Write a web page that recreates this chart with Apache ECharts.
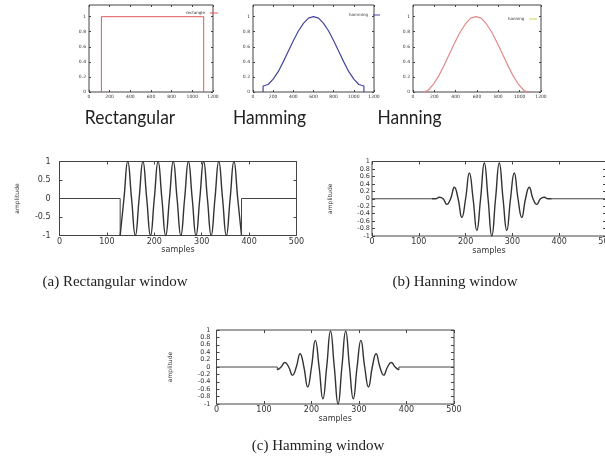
<!DOCTYPE html>
<html><head><meta charset="utf-8">
<script src="https://cdn.jsdelivr.net/npm/echarts@6/dist/echarts.min.js"></script>
<style>html,body{margin:0;padding:0;background:#fff}#c{width:605px;height:464px}</style>
</head><body><div id="c"></div>
<script>
// ---- top row: window shapes ----
const windowAxisTicks = [0, 200, 400, 600, 800, 1000, 1200];
const windowLevelTicks = [0, 0.2, 0.4, 0.6, 0.8, 1];
const rectangleSamples = [120, 120, 1110, 1110];
const rectangleWindow = [0, 1, 1, 0];
const hammingSamples = [100, 100, 150, 200, 250, 300, 350, 400, 450, 500, 550, 600, 650, 700, 750, 800, 850, 900, 950, 1000, 1050, 1100, 1100];
const hammingWindow = [0, 0.08, 0.10, 0.17, 0.27, 0.40, 0.54, 0.68, 0.81, 0.91, 0.98, 1.00, 0.98, 0.91, 0.81, 0.68, 0.54, 0.40, 0.27, 0.17, 0.10, 0.08, 0];
const hanningSamples = [90, 140, 190, 240, 290, 340, 390, 440, 490, 540, 590, 640, 690, 740, 790, 840, 890, 940, 990, 1040, 1090];
const hanningWindow = [0, 0.02, 0.10, 0.21, 0.35, 0.50, 0.65, 0.79, 0.90, 0.98, 1.00, 0.98, 0.90, 0.79, 0.65, 0.50, 0.35, 0.21, 0.10, 0.02, 0];
const windowNames = ['Rectangular', 'Hamming', 'Hanning'];
const legendNames = ['rectangle', 'hamming', 'hanning'];

// ---- bottom: windowed signals ----
const silenceSamples = [0, 128, 384, 500];
const waveSamples = [128, 136, 144, 152, 160, 168, 176, 184, 192, 200, 208, 216, 224, 232, 240, 248, 256, 264, 272, 280, 288, 296, 304, 312, 320, 328, 336, 344, 352, 360, 368, 376, 384];
const rectangularWave = [-1, 0, 1, 0, -1, 0, 1, 0, -1, 0, 1, 0, -1, 0, 1, 0, -1, 0, 1, 0, -1, 0, 1, 0, -1, 0, 1, 0, -1, 0, 1, 0, -1];
const hanningWave = [0, 0, 0.04, 0, -0.15, 0, 0.31, 0, -0.5, 0, 0.69, 0, -0.85, 0, 0.96, 0, -1, 0, 0.96, 0, -0.85, 0, 0.69, 0, -0.5, 0, 0.31, 0, -0.15, 0, 0.04, 0, 0];
const hammingWave = [-0.08, 0, 0.12, 0, -0.22, 0, 0.36, 0, -0.54, 0, 0.72, 0, -0.86, 0, 0.97, 0, -1, 0, 0.97, 0, -0.86, 0, 0.72, 0, -0.54, 0, 0.36, 0, -0.22, 0, 0.12, 0, -0.08];
const captions = ['(a) Rectangular window', '(b) Hanning window', '(c) Hamming window'];

const pairs = (xs, ys) => xs.map((x, i) => [x, ys[i]]);

const topGrids = [
  {left: 89, top: 5, width: 124, height: 87},
  {left: 253, top: 5, width: 121, height: 87},
  {left: 413, top: 5, width: 128, height: 87}
];
const botGrids = [
  {left: 59.5, top: 161.5, width: 237, height: 74},
  {left: 372, top: 161.5, width: 234, height: 74.5},
  {left: 216.5, top: 330, width: 237.5, height: 74}
];
const grids = topGrids.concat(botGrids).map(g => Object.assign({show: true, borderColor: '#444', borderWidth: 1, backgroundColor: 'transparent', containLabel: false, outerBoundsMode: 'none'}, g));

const tinyFont = {fontFamily: 'DejaVu Sans', fontSize: 4.5, color: '#333'};
const smallFont = {fontFamily: 'DejaVu Sans', fontSize: 8, color: '#333'};
const plain = v => String(Math.round(v * 100) / 100);

const xAxes = [], yAxes = [];
for (let i = 0; i < 3; i++) {
  xAxes.push({type: 'value', gridIndex: i, min: 0, max: 1200, interval: 200,
    axisLine: {show: false, onZero: false}, splitLine: {show: false},
    axisTick: {inside: true, length: 2, customValues: windowAxisTicks, lineStyle: {color: '#444'}},
    axisLabel: Object.assign({margin: 2, formatter: plain, customValues: windowAxisTicks}, tinyFont)});
  yAxes.push({type: 'value', gridIndex: i, min: 0, max: 1.155,
    axisLine: {show: false, onZero: false}, splitLine: {show: false},
    axisTick: {inside: true, length: 2, customValues: windowLevelTicks, lineStyle: {color: '#444'}},
    axisLabel: Object.assign({margin: 3, formatter: plain, customValues: windowLevelTicks}, tinyFont)});
}
const yMargins = [9, 2, 6];
const yGaps = [39, 39, 43];
for (let j = 0; j < 3; j++) {
  const g = 3 + j;
  xAxes.push({type: 'value', gridIndex: g, min: 0, max: 500, interval: 100,
    name: 'samples', nameLocation: 'middle', nameGap: 7.5, nameTextStyle: smallFont,
    axisLine: {show: false, onZero: false}, splitLine: {show: false},
    axisTick: {inside: true, length: 3, lineStyle: {color: '#444'}},
    axisLabel: Object.assign({margin: 2, showMinLabel: true, showMaxLabel: true, alignMaxLabel: 'center', alignMinLabel: 'center'}, smallFont)});
  const yFont = j === 0 ? smallFont : {fontFamily: 'DejaVu Sans', fontSize: 6.5, lineHeight: 6.5, color: '#333'};
  yAxes.push({type: 'value', gridIndex: g, min: -1, max: 1, interval: j === 0 ? 0.5 : 0.2,
    name: 'amplitude', nameLocation: 'middle', nameRotate: 90, nameGap: yGaps[j],
    nameTextStyle: {fontFamily: 'DejaVu Sans', fontSize: 6, color: '#333'},
    axisLine: {show: false, onZero: false}, splitLine: {show: false},
    axisTick: {inside: true, length: 3, lineStyle: {color: '#444'}},
    axisLabel: Object.assign({margin: yMargins[j], formatter: plain, showMinLabel: true, showMaxLabel: true, hideOverlap: false}, yFont)});
}
// mirrored ticks on top / right
for (let g = 0; g < 6; g++) {
  const top = g < 3;
  xAxes.push({type: 'value', gridIndex: g, position: 'top', min: 0, max: top ? 1200 : 500, interval: top ? 200 : 100,
    axisLine: {show: false, onZero: false}, splitLine: {show: false}, axisLabel: {show: false},
    axisTick: {inside: true, length: top ? 2 : 3, lineStyle: {color: '#444'}}});
  yAxes.push(top ? {type: 'value', gridIndex: g, position: 'right', min: 0, max: 1.155,
    axisLine: {show: false, onZero: false}, splitLine: {show: false}, axisLabel: {show: false},
    axisTick: {inside: true, length: 2, customValues: windowLevelTicks, lineStyle: {color: '#444'}}}
    : {type: 'value', gridIndex: g, position: 'right', min: -1, max: 1, interval: g === 3 ? 0.5 : 0.2,
    axisLine: {show: false, onZero: false}, splitLine: {show: false}, axisLabel: {show: false},
    axisTick: {inside: true, length: 3, lineStyle: {color: '#444'}}});
}

const lineDark = {color: '#333', width: 1.4};
const lineFlat = {color: '#444', width: 1};
const base = {type: 'line', showSymbol: false, symbol: 'none', animation: false, silent: true};
const series = [
  Object.assign({}, base, {name: 'rectangle', xAxisIndex: 0, yAxisIndex: 0, data: pairs(rectangleSamples, rectangleWindow), lineStyle: {color: '#e05a5a', width: 1}, itemStyle: {color: '#e05a5a'}}),
  Object.assign({}, base, {name: 'hamming', xAxisIndex: 1, yAxisIndex: 1, data: pairs(hammingSamples, hammingWindow), lineStyle: {color: '#46469c', width: 1.2}, itemStyle: {color: '#46469c'}}),
  Object.assign({}, base, {name: 'hanning', xAxisIndex: 2, yAxisIndex: 2, data: pairs(hanningSamples, hanningWindow), lineStyle: {color: '#e08a8a', width: 1.2}, itemStyle: {color: '#e08a8a'}})
];
const waves = [rectangularWave, hanningWave, hammingWave];
for (let j = 0; j < 3; j++) {
  const w = waves[j];
  const first = w[0], last = w[w.length - 1];
  const idx = 3 + j;
  series.push(Object.assign({}, base, {name: 'lead' + j, xAxisIndex: idx, yAxisIndex: idx,
    data: [[silenceSamples[0], 0], [silenceSamples[1], 0], [silenceSamples[1], first]], lineStyle: lineFlat}));
  series.push(Object.assign({}, base, {name: 'wave' + j, xAxisIndex: idx, yAxisIndex: idx, smooth: 0.5,
    data: pairs(waveSamples, w), lineStyle: lineDark}));
  series.push(Object.assign({}, base, {name: 'trail' + j, xAxisIndex: idx, yAxisIndex: idx,
    data: [[silenceSamples[2], last], [silenceSamples[2], 0], [silenceSamples[3], 0]], lineStyle: lineFlat}));
}

const capTitle = {fontFamily: 'Liberation Serif', fontSize: 15, fontWeight: 'normal', color: '#222'};
const titles = [
  {text: captions[0], left: 115, top: 275, textAlign: 'center', padding: 0, textStyle: capTitle},
  {text: captions[1], left: 455, top: 275, textAlign: 'center', padding: 0, textStyle: capTitle},
  {text: captions[2], left: 318, top: 439, textAlign: 'center', padding: 0, textStyle: capTitle}
];
const bigCenters = [130, 269.5, 409.5];
const graphics = windowNames.map((t, i) => ({
  type: 'text', x: bigCenters[i], y: 118, scaleX: 0.87, scaleY: 1,
  style: {text: t, fontFamily: 'Lato', fontSize: 20, fill: '#222', align: 'center', verticalAlign: 'middle'}
}));

const legendStyle = {fontFamily: 'DejaVu Sans', fontSize: 4, color: '#333'};
const legends = [
  {data: [{name: legendNames[0], icon: 'rect'}], left: 186, top: 11, align: 'right', padding: 0, itemWidth: 8, itemHeight: 1, itemGap: 2, textStyle: legendStyle, selectedMode: false},
  {data: [{name: legendNames[1], icon: 'rect'}], left: 349, top: 13, align: 'right', padding: 0, itemWidth: 7, itemHeight: 1, itemGap: 2, textStyle: legendStyle, selectedMode: false},
  {data: [{name: legendNames[2], icon: 'rect', itemStyle: {color: '#c8d45a'}}], left: 508, top: 17, align: 'right', padding: 0, itemWidth: 8, itemHeight: 1, itemGap: 2, textStyle: legendStyle, selectedMode: false}
];

const chart = echarts.init(document.getElementById('c'), null, {renderer: 'canvas'});
chart.setOption({
  backgroundColor: '#fff',
  animation: false,
  title: titles,
  legend: legends,
  grid: grids,
  xAxis: xAxes,
  yAxis: yAxes,
  series: series,
  graphic: graphics
});
</script></body></html>
